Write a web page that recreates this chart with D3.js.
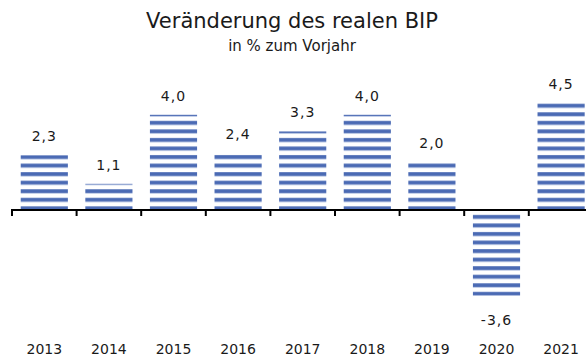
<!DOCTYPE html>
<html>
<head>
<meta charset="utf-8">
<script src="https://cdn.jsdelivr.net/npm/d3@7"></script>
<style>
  html, body { margin: 0; padding: 0; background: #fff; }
  svg { display: block; }
  text { font-family: "DejaVu Sans", Verdana, sans-serif; fill: #1a1a1a; }
</style>
</head>
<body>
<svg id="chart" width="586" height="356"></svg>
<script>
// Real GDP growth, change vs. previous year in %
const years = ["2013", "2014", "2015", "2016", "2017", "2018", "2019", "2020", "2021"];
const growth = [2.3, 1.1, 4.0, 2.4, 3.3, 4.0, 2.0, -3.6, 4.5];
const valueLabels = ["2,3", "1,1", "4,0", "2,4", "3,3", "4,0", "2,0", "-3,6", "4,5"];

const svg = d3.select("#chart");
const W = 586, H = 356;

const x = d3.scaleBand()
  .domain(years)
  .range([12, 593.4])
  .paddingInner(0.27)
  .paddingOuter(0.135);

const y = d3.scaleLinear()
  .domain([-4, 5])
  .range([210 + 4 * 23.8, 210 - 5 * 23.8]);

const y0 = y(0);
const period = 8.55;

// Horizontal stripe fill, anchored at the zero line
const defs = svg.append("defs");
const pat = defs.append("pattern")
  .attr("id", "stripes")
  .attr("patternUnits", "userSpaceOnUse")
  .attr("x", 0)
  .attr("y", y0 + 1)
  .attr("width", 10)
  .attr("height", period);
pat.append("rect").attr("x", 0).attr("y", 0).attr("width", 10).attr("height", period).attr("fill", "#fff");
pat.append("rect").attr("x", 0).attr("y", period - 4.6).attr("width", 10).attr("height", 3.6).attr("fill", "#4a6ab4");
pat.append("rect").attr("x", 0).attr("y", period - 1).attr("width", 10).attr("height", 0.8).attr("fill", "#b4c3e3");

// Title
svg.append("text")
  .attr("x", 292).attr("y", 28)
  .attr("text-anchor", "middle")
  .style("font-size", "21px")
  .text("Veränderung des realen BIP");
svg.append("text")
  .attr("x", 292).attr("y", 51)
  .attr("text-anchor", "middle")
  .style("font-size", "15px")
  .text("in % zum Vorjahr");

// Bars
svg.append("g").selectAll("rect")
  .data(growth)
  .join("rect")
  .attr("x", (d, i) => x(years[i]))
  .attr("width", x.bandwidth())
  .attr("y", d => d >= 0 ? y(d) : y0 + 3)
  .attr("height", d => d >= 0 ? y0 - y(d) - 1 : y(d) - y0 - 3)
  .attr("fill", "url(#stripes)");

// Value labels
svg.append("g").selectAll("text")
  .data(growth)
  .join("text")
  .attr("x", (d, i) => x(years[i]) + x.bandwidth() / 2)
  .attr("y", d => d >= 0 ? y(d) - 14 : y(d) + 29)
  .attr("text-anchor", "middle")
  .style("font-size", "14px")
  .style("letter-spacing", "1px")
  .text((d, i) => valueLabels[i]);

// Zero line with category separators
const step = x.step();
const axis = svg.append("g");
axis.append("line")
  .attr("x1", 11).attr("x2", W)
  .attr("y1", y0).attr("y2", y0)
  .attr("stroke", "#000").attr("stroke-width", 2);
axis.selectAll("line.tick")
  .data(years)
  .join("line")
  .attr("class", "tick")
  .attr("x1", d => x(d) - step * x.paddingInner() / 2)
  .attr("x2", d => x(d) - step * x.paddingInner() / 2)
  .attr("y1", y0).attr("y2", y0 + 6)
  .attr("stroke", "#000").attr("stroke-width", 2);

// Year labels
svg.append("g").selectAll("text")
  .data(years)
  .join("text")
  .attr("x", d => x(d) + x.bandwidth() / 2)
  .attr("y", 354)
  .attr("text-anchor", "middle")
  .style("font-size", "14px")
  .text(d => d);
</script>
</body>
</html>
